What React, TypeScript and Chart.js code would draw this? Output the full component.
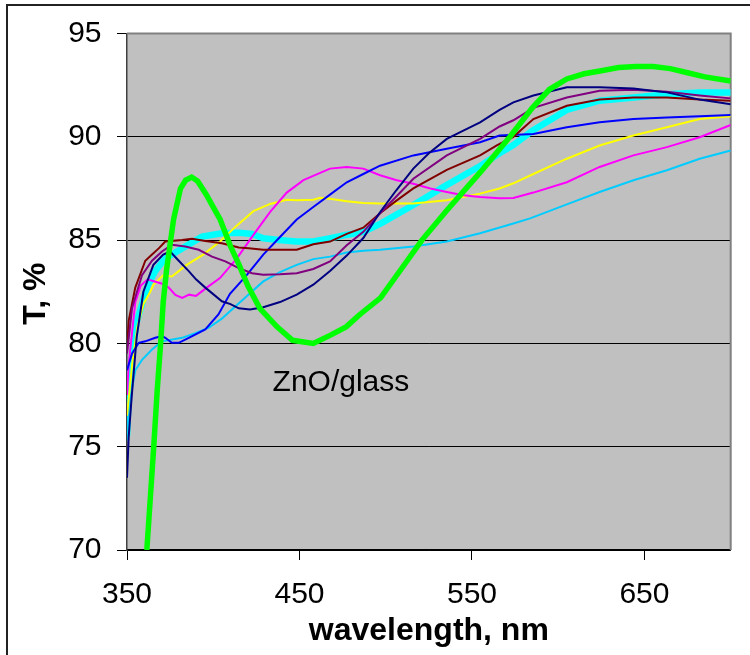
import React, { useEffect, useRef } from "react";
import { Chart, registerables } from "chart.js";

Chart.register(...registerables);

// ---------- data ----------
const X_TICKS = [350, 450, 550, 650];
const X_MIN = 350;
const X_MAX = 700;
const Y_MIN = 70;
const Y_MAX = 95;
const Y_STEP = 5;

const X_TITLE = "wavelength, nm";
const Y_TITLE = "T, %";
const SAMPLE_LABEL = "ZnO/glass";

// ZnO/glass (thick green)
const greenWl = [361.5, 363.5, 365.5, 367.5, 369.5, 371, 373, 375, 377, 381, 384, 387.5, 391, 396, 400, 404, 410, 415, 420, 427, 437, 446, 458, 468, 477, 485, 497, 509, 521, 535, 555, 572, 585, 595, 605, 615, 625, 635, 645, 655, 665, 675, 685, 700];
const greenT = [70, 72.5, 75, 77.7, 80, 82, 83.6, 84.8, 86, 87.5, 87.9, 88.05, 87.85, 87.2, 86.6, 86.0, 84.7, 83.8, 82.8, 81.7, 80.8, 80.15, 80.0, 80.4, 80.8, 81.4, 82.2, 83.6, 85.0, 86.4, 88.3, 90.0, 91.4, 92.3, 92.8, 93.05, 93.2, 93.35, 93.4, 93.4, 93.3, 93.1, 92.9, 92.7];

// thick cyan
const cyanWl = [350, 351, 353, 355.5, 358.7, 362, 366.4, 372, 382, 393.5, 405, 415, 422.5, 429, 438, 448, 458, 468, 477, 487, 497, 516, 535, 555, 566, 574, 585, 605, 624, 644, 663, 682, 700];
const cyanT = [75.5, 77.5, 79.5, 81, 81.9, 82.8, 83.5, 84.1, 84.6, 85.17, 85.33, 85.35, 85.3, 85.09, 85.0, 84.93, 84.93, 85.09, 85.25, 85.4, 85.8, 86.7, 87.65, 88.6, 89.2, 89.6, 90.3, 91.3, 91.75, 91.9, 92.06, 92.15, 92.15];

// navy
const navyWl = [350, 351, 352.7, 355.6, 359.5, 365.3, 371, 375, 380, 385.8, 390, 395.4, 405, 410, 414.8, 421.3, 429, 438.7, 448.4, 458, 467.7, 477.4, 487, 496.7, 506, 516, 525, 535.4, 545, 554.7, 566, 574, 585.6, 605, 624, 643.6, 663, 682, 700];
const navyT = [73.5, 75.5, 77.4, 80.3, 82.5, 83.8, 84.3, 84.45, 84.0, 83.5, 83.1, 82.7, 82.04, 81.9, 81.7, 81.64, 81.75, 82.0, 82.36, 82.84, 83.5, 84.25, 85.1, 86.35, 87.4, 88.46, 89.2, 89.9, 90.3, 90.7, 91.3, 91.67, 92.0, 92.4, 92.4, 92.34, 92.15, 91.8, 91.58];

// blue
const blueWl = [350, 352.9, 356.8, 360.6, 366.4, 370.3, 372.2, 376, 380, 385.8, 395.4, 403, 409.7, 419.4, 429, 438.7, 448.4, 458, 467.7, 477.4, 487, 496.7, 516, 535.4, 554.7, 566, 585.6, 605, 624, 643.6, 663, 682, 700];
const blueT = [78.7, 79.5, 80.03, 80.1, 80.27, 80.35, 80.27, 80.03, 80.03, 80.27, 80.68, 81.4, 82.4, 83.3, 84.3, 85.15, 86.0, 86.6, 87.2, 87.8, 88.2, 88.6, 89.1, 89.42, 89.74, 90.06, 90.14, 90.46, 90.7, 90.86, 90.94, 91.0, 91.05];

// maroon
const maroonWl = [350, 351, 354.8, 360.6, 364.5, 368.4, 372.2, 381.9, 387.7, 395.4, 405, 414.8, 420.6, 429, 438.7, 448.4, 458, 467.7, 477.4, 487, 496.7, 506, 516, 535.4, 554.7, 564.4, 574, 585.6, 605, 624, 643.6, 663, 682, 700];
const maroonT = [79.8, 81.1, 82.7, 84.0, 84.3, 84.6, 84.93, 85.0, 85.06, 84.96, 84.85, 84.64, 84.6, 84.53, 84.53, 84.53, 84.8, 84.93, 85.3, 85.6, 86.3, 86.9, 87.5, 88.4, 89.1, 89.58, 90.0, 90.86, 91.5, 91.8, 91.9, 91.9, 91.8, 91.75];

// purple
const purpleWl = [350, 352.9, 358.7, 364.5, 370.3, 376, 383.8, 391.6, 399.3, 407, 414.8, 422.5, 429, 438.7, 448.4, 458, 467.7, 477.4, 487, 496.7, 506, 516, 535.4, 554.7, 566, 574, 585.6, 605, 624, 643.6, 663, 682, 700];
const purpleT = [79.5, 81.7, 83.3, 84.0, 84.45, 84.77, 84.69, 84.53, 84.2, 83.97, 83.64, 83.4, 83.32, 83.35, 83.4, 83.6, 83.97, 84.75, 85.4, 86.3, 87.1, 87.97, 89.1, 89.9, 90.5, 90.8, 91.4, 91.9, 92.23, 92.28, 92.18, 92.0, 91.86];

// magenta
const magentaWl = [350, 351, 354.8, 358, 362, 366, 370, 374.2, 378, 382, 386, 390, 396.2, 403.9, 413.6, 423.3, 433, 442.6, 452.3, 462, 467.7, 477.4, 487, 496.7, 506.4, 516, 525.9, 535.4, 545, 554.7, 566, 574, 585.6, 605, 624, 643.6, 663, 682, 700];
const magentaT = [77.5, 79, 82.0, 82.8, 83.1, 83.0, 82.9, 82.7, 82.35, 82.2, 82.36, 82.3, 82.7, 83.16, 84.1, 85.25, 86.37, 87.3, 87.9, 88.25, 88.46, 88.54, 88.46, 88.14, 87.9, 87.73, 87.5, 87.33, 87.17, 87.09, 87.02, 87.04, 87.3, 87.8, 88.54, 89.1, 89.5, 89.98, 90.57];

// yellow
const yellowWl = [350, 353, 356, 359.5, 363.5, 365.3, 371, 376, 380, 384.6, 394.2, 403.9, 413.6, 423.3, 433, 442.6, 448.4, 458, 462, 467.7, 477.4, 487, 496.7, 516, 535.4, 554.7, 566, 574, 585.6, 605, 624, 643.6, 663, 682, 700];
const yellowT = [76.5, 79, 80.8, 81.9, 82.5, 82.84, 83.3, 83.24, 83.5, 83.8, 84.3, 84.93, 85.7, 86.4, 86.75, 86.95, 86.93, 86.95, 87.05, 87.0, 86.88, 86.8, 86.77, 86.77, 86.93, 87.25, 87.5, 87.75, 88.2, 88.94, 89.58, 90.06, 90.46, 90.86, 91.0];

// sky blue
const skyWl = [350, 351, 354.8, 358.7, 364.5, 370.3, 381.9, 389.6, 397.4, 405, 409.7, 419.4, 429, 438.7, 448.4, 458, 467.7, 477.4, 487, 496.7, 516, 535.4, 554.7, 574, 583.7, 608.8, 624, 643.6, 663, 682, 700];
const skyT = [75.3, 76.9, 78.7, 79.2, 79.7, 80.1, 80.27, 80.5, 80.76, 81.2, 81.56, 82.28, 83.0, 83.45, 83.8, 84.08, 84.2, 84.4, 84.48, 84.53, 84.69, 84.93, 85.33, 85.8, 86.05, 86.85, 87.33, 87.9, 88.38, 88.94, 89.34];

// label anchor (data coordinates)
const LABEL_WL = 434.4;
const LABEL_T = 77.7;

const FONT = '"Liberation Sans", Arial, Helvetica, sans-serif';

function pts(xs: number[], ys: number[]) {
  return xs.map((x, i) => ({ x, y: ys[i] }));
}

const framePlugin = {
  id: "frame",
  beforeDraw(chart: any) {
    const { ctx, chartArea: a } = chart;
    ctx.save();
    ctx.fillStyle = "#C0C0C0";
    ctx.fillRect(a.left, a.top, a.right - a.left, a.bottom - a.top);
    ctx.restore();
  },
  beforeDatasetsDraw(chart: any) {
    const { ctx, chartArea: a } = chart;
    ctx.save();
    ctx.strokeStyle = "#808080";
    ctx.lineWidth = 2;
    ctx.beginPath();
    ctx.moveTo(a.left, a.top);
    ctx.lineTo(a.right, a.top);
    ctx.lineTo(a.right, a.bottom);
    ctx.stroke();
    ctx.restore();
  },
  afterDraw(chart: any) {
    const { ctx, chartArea: a, scales } = chart;
    ctx.save();
    ctx.fillStyle = "#000";
    ctx.font = `bold 32px ${FONT}`;
    ctx.textAlign = "center";
    ctx.textBaseline = "alphabetic";
    ctx.fillText(X_TITLE, (a.left + a.right) / 2, 640);
    ctx.save();
    ctx.translate(45, (a.top + a.bottom) / 2 + 2);
    ctx.rotate(-Math.PI / 2);
    ctx.fillText(Y_TITLE, 0, 0);
    ctx.restore();
    ctx.font = `30px ${FONT}`;
    ctx.textAlign = "left";
    const lx = scales.x.getPixelForValue(LABEL_WL);
    const ly = scales.y.getPixelForValue(LABEL_T);
    ctx.fillText(SAMPLE_LABEL, lx, ly);
    ctx.restore();
  },
};

export default function App() {
  const ref = useRef<HTMLCanvasElement | null>(null);

  useEffect(() => {
    if (!ref.current) return;
    const thin = 2;
    const ds = (data: any, color: string, w: number) => ({
      data,
      borderColor: color,
      backgroundColor: color,
      borderWidth: w,
      pointRadius: 0,
      fill: false,
      tension: 0,
    });
    const chart = new Chart(ref.current, {
      type: "line",
      data: {
        datasets: [
          ds(pts(greenWl, greenT), "#00FF00", 5.5),
          ds(pts(navyWl, navyT), "#000080", thin),
          ds(pts(purpleWl, purpleT), "#800080", thin),
          ds(pts(maroonWl, maroonT), "#800000", thin),
          ds(pts(blueWl, blueT), "#0000FF", thin),
          ds(pts(magentaWl, magentaT), "#FF00FF", thin),
          ds(pts(yellowWl, yellowT), "#FFFF00", thin),
          ds(pts(skyWl, skyT), "#00CCFF", thin),
          ds(pts(cyanWl, cyanT), "#00FFFF", 6.5),
        ],
      },
      options: {
        responsive: false,
        animation: false,
        devicePixelRatio: 1,
        layout: { padding: { top: 30.7, right: 19.3, left: 0, bottom: 0 } },
        plugins: { legend: { display: false }, tooltip: { enabled: false } },
        scales: {
          x: {
            type: "linear",
            min: X_MIN,
            max: X_MAX,
            afterBuildTicks: (s: any) => {
              s.ticks = X_TICKS.map((v) => ({ value: v }));
            },
            afterFit: (s: any) => {
              s.height = 105;
            },
            grid: {
              drawOnChartArea: false,
              drawTicks: true,
              tickLength: 10,
              tickColor: "#000",
              tickWidth: 1,
            },
            border: { display: true, color: "#000", width: 1.5 },
            ticks: {
              color: "#000",
              font: { family: FONT, size: 30 },
              padding: 17,
              maxRotation: 0,
              autoSkip: false,
            },
          },
          y: {
            type: "linear",
            min: Y_MIN,
            max: Y_MAX,
            afterFit: (s: any) => {
              s.width = 127;
            },
            grid: {
              color: "#000",
              lineWidth: 1,
              drawTicks: true,
              tickLength: 10,
              tickColor: "#000",
              tickWidth: 1,
            },
            border: { display: true, color: "#404040", width: 1.5 },
            ticks: {
              stepSize: Y_STEP,
              color: "#000",
              font: { family: FONT, size: 30 },
              padding: 15.5,
            },
          },
        },
      },
      plugins: [framePlugin],
    } as any);
    return () => chart.destroy();
  }, []);

  return (
    <div
      style={{
        position: "fixed",
        left: 0,
        top: 0,
        width: 750,
        height: 655,
        overflow: "hidden",
        background: "#fff",
      }}
    >
      <canvas
        ref={ref}
        width={750}
        height={655}
        style={{ position: "absolute", left: 0, top: 0, width: 750, height: 655 }}
      />
      <div
        style={{
          position: "absolute",
          left: 6,
          top: 4,
          width: 780,
          height: 700,
          border: "2px solid #222",
          pointerEvents: "none",
        }}
      />
    </div>
  );
}
